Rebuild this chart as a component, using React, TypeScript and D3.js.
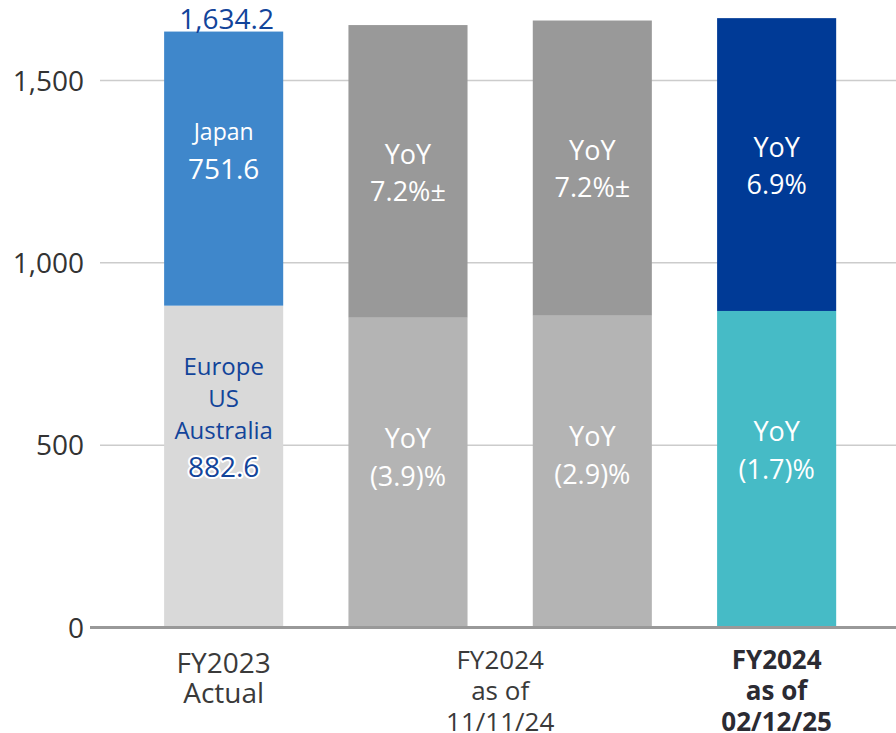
import React from "react";
import * as d3 from "d3";

const barKeys = ["FY2023", "FY2024a", "FY2024b", "FY2024c"];
const overseasValues = [882.6, 849.5, 855.0, 868.0];
const japanValues = [751.6, 802.5, 809.5, 803.0];
const totalLabels = ["1,634.2", "", "", ""];
const topLabels = [["Japan", "751.6"], ["YoY", "7.2%±"], ["YoY", "7.2%±"], ["YoY", "6.9%"]];
const bottomLabels = [["Europe", "US", "Australia", "882.6"], ["YoY", "(3.9)%"], ["YoY", "(2.9)%"], ["YoY", "(1.7)%"]];
const topColors = ["#3F87CB", "#999999", "#999999", "#003A96"];
const bottomColors = ["#D9D9D9", "#B4B4B4", "#B4B4B4", "#46BBC6"];
const yTicks = [0, 500, 1000, 1500];
const categoryGroups = [
  { lines: ["FY2023", "Actual"], bars: [0], bold: false },
  { lines: ["FY2024", "as of", "11/11/24"], bars: [1, 2], bold: false },
  { lines: ["FY2024", "as of", "02/12/25"], bars: [3], bold: true },
];

const W = 896;
const H = 733;
const FONT = "'Open Sans', 'Noto Sans', sans-serif";
const BLUE_TEXT = "#12449A";

export default function App() {
  const x = d3.scaleBand<string>().domain(barKeys).range([131.5, 868.8]).paddingInner(0.354).paddingOuter(0.177);
  const y = d3.scaleLinear().domain([0, 1500]).range([627.5, 80.5]);
  const bw = x.bandwidth();

  return (
    <svg width={W} height={H} style={{ position: "absolute", left: 0, top: 0, background: "#fff" }} fontFamily={FONT}>
      {yTicks.filter((t) => t > 0).map((t) => (
        <line key={t} x1={100} x2={W} y1={y(t)} y2={y(t)} stroke="#CCCCCC" strokeWidth={1.5} />
      ))}
      {yTicks.map((t) => (
        <text key={"l" + t} x={84} y={y(t)} dy="0.36em" textAnchor="end" fontSize={28} fill="#333">
          {d3.format(",")(t)}
        </text>
      ))}
      {barKeys.map((k, i) => {
        const x0 = x(k)!;
        const cx = x0 + bw / 2;
        const yOver = y(overseasValues[i]);
        const yTot = y(overseasValues[i] + japanValues[i]);
        const first = i === 0;
        return (
          <g key={k}>
            <rect x={x0} y={yOver} width={bw} height={y(0) - yOver} fill={bottomColors[i]} />
            <rect x={x0} y={yTot} width={bw} height={yOver - yTot} fill={topColors[i]} />
            {totalLabels[i] && (
              <text x={cx + 3} y={yTot - 3} textAnchor="middle" fontSize={28} fill={BLUE_TEXT}>
                {totalLabels[i]}
              </text>
            )}
            {first ? (
              <g>
                <text x={cx} y={yTot + 108} textAnchor="middle" fontSize={23} fill="#fff">{topLabels[i][0]}</text>
                <text x={cx} y={yTot + 147} textAnchor="middle" fontSize={28} fill="#fff">{topLabels[i][1]}</text>
                {bottomLabels[i].map((s, j) => {
                  const isNum = j === bottomLabels[i].length - 1;
                  return (
                    <text
                      key={j}
                      x={cx}
                      y={yOver + 69 + j * 32 + (isNum ? 6 : 0)}
                      textAnchor="middle"
                      fontSize={isNum ? 28 : 24}
                      fill={BLUE_TEXT}
                      stroke={isNum ? "#fff" : "none"}
                      strokeWidth={isNum ? 4 : 0}
                      paintOrder="stroke"
                      strokeLinejoin="round"
                    >
                      {s}
                    </text>
                  );
                })}
              </g>
            ) : (
              <g>
                {topLabels[i].map((s, j) => (
                  <text key={"t" + j} x={cx} y={yTot + 139 + j * 37} textAnchor="middle" fontSize={27} fill="#fff">{s}</text>
                ))}
                {bottomLabels[i].map((s, j) => (
                  <text key={"b" + j} x={cx} y={yOver + 130 + j * 38} textAnchor="middle" fontSize={27} fill="#fff">{s}</text>
                ))}
              </g>
            )}
          </g>
        );
      })}
      <line x1={90} x2={W} y1={y(0)} y2={y(0)} stroke="#999999" strokeWidth={3} />
      {categoryGroups.map((g, gi) => {
        const xs = g.bars.map((b) => x(barKeys[b])! + bw / 2);
        const cx = d3.mean(xs)!;
        const three = g.lines.length === 3;
        return (
          <g key={gi}>
            {g.lines.map((s, j) => (
              <text
                key={j}
                x={cx}
                y={(three ? 669 : 673) + j * (three ? 31 : 30)}
                textAnchor="middle"
                fontSize={three ? 26 : 28}
                fontWeight={g.bold ? 700 : 400}
                fill={g.bold ? "#2B2B33" : "#3A3A3A"}
              >
                {s}
              </text>
            ))}
          </g>
        );
      })}
    </svg>
  );
}
